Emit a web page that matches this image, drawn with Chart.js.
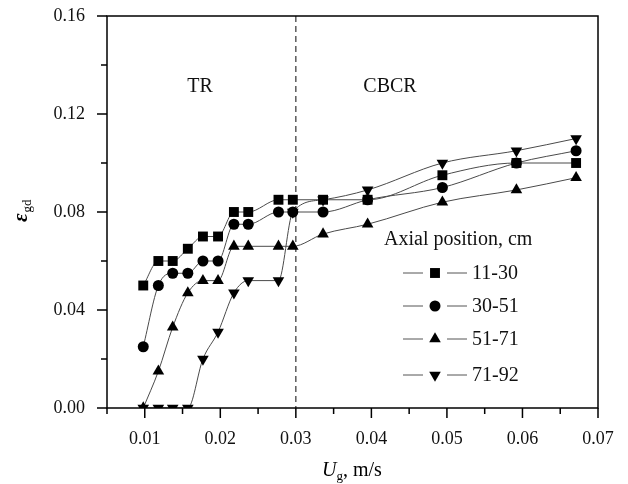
<!DOCTYPE html>
<html>
<head>
<meta charset="utf-8">
<script src="https://cdn.jsdelivr.net/npm/chart.js@4.4.1/dist/chart.umd.min.js"></script>
<style>
    html, body { margin: 0; padding: 0; background: #fff; }
    #wrap { width: 628px; height: 484px; }
</style>
</head>
<body>
<div id="wrap"><canvas id="voidChart" width="628" height="484"></canvas></div>
<script>
// superficial gas velocity, m/s
const ugValues = [0.0098, 0.0118, 0.0137, 0.0157, 0.0177, 0.0197, 0.0218, 0.0237, 0.0277, 0.0296, 0.0336, 0.0395, 0.0494, 0.0592, 0.0671];

// gas holdup at each axial position
const pos1130 = [0.050, 0.060, 0.060, 0.065, 0.070, 0.070, 0.080, 0.080, 0.085, 0.085, 0.085, 0.085, 0.095, 0.100, 0.100];
const pos3051 = [0.025, 0.050, 0.055, 0.055, 0.060, 0.060, 0.075, 0.075, 0.080, 0.080, 0.080, 0.085, 0.090, 0.100, 0.105];
const pos5171 = [0.000, 0.015, 0.033, 0.047, 0.052, 0.052, 0.066, 0.066, 0.066, 0.066, 0.071, 0.075, 0.084, 0.089, 0.094];
const pos7192 = [0.000, 0.000, 0.000, 0.000, 0.020, 0.031, 0.047, 0.052, 0.052, 0.080, 0.085, 0.089, 0.100, 0.105, 0.110];

const seriesNames = ['11-30', '30-51', '51-71', '71-92'];
const xTickLabels = ['0.01', '0.02', '0.03', '0.04', '0.05', '0.06', '0.07'];
const yTickLabels = ['0.00', '0.04', '0.08', '0.12', '0.16'];
const regimeBoundary = 0.03;
const regimeNames = ['TR', 'CBCR'];

const serif = '"Liberation Serif", "DejaVu Serif", serif';

function toPoints(ys) {
    return ugValues.map((x, i) => ({ x: x, y: ys[i] }));
}

const markerStyles = [
    { pointStyle: 'rect', radius: 7, rotation: 0 },
    { pointStyle: 'circle', radius: 5.5, rotation: 0 },
    { pointStyle: 'triangle', radius: 6.7, rotation: 0 },
    { pointStyle: 'triangle', radius: 6.7, rotation: 180 }
];

const allSeries = [pos1130, pos3051, pos5171, pos7192];

const datasets = allSeries.map((ys, i) => ({
    label: seriesNames[i],
    data: toPoints(ys),
    showLine: true,
    borderColor: '#4a4a4a',
    borderWidth: 1,
    backgroundColor: '#000',
    pointBackgroundColor: '#000',
    pointBorderColor: '#000',
    pointBorderWidth: 0,
    pointStyle: markerStyles[i].pointStyle,
    pointRadius: markerStyles[i].radius,
    pointRotation: markerStyles[i].rotation,
    cubicInterpolationMode: 'monotone',
    clip: { left: 20, right: 20, top: 20, bottom: 0 }
}));

function drawMarker(ctx, style, x, y, r) {
    ctx.save();
    ctx.fillStyle = '#000';
    ctx.beginPath();
    if (style === 0) {
        const s = Math.SQRT1_2 * r;
        ctx.rect(x - s, y - s, 2 * s, 2 * s);
    } else if (style === 1) {
        ctx.arc(x, y, r, 0, Math.PI * 2);
    } else {
        const dir = style === 2 ? 1 : -1;
        const h = r * 0.5;
        const w = r * Math.sin(Math.PI / 3);
        ctx.moveTo(x, y - dir * r);
        ctx.lineTo(x - w, y + dir * h);
        ctx.lineTo(x + w, y + dir * h);
        ctx.closePath();
    }
    ctx.fill();
    ctx.restore();
}

function noOverhang(scale) {
    scale.paddingLeft = 0;
    scale.paddingRight = 0;
    scale.paddingTop = 0;
    scale.paddingBottom = 0;
}

const decorPlugin = {
    id: 'decor',
    beforeDatasetsDraw(chart) {
        const ctx = chart.ctx;
        const area = chart.chartArea;
        const xs = chart.scales.x;
        const px = xs.getPixelForValue(regimeBoundary);
        ctx.save();
        ctx.strokeStyle = '#333';
        ctx.lineWidth = 1.2;
        ctx.setLineDash([6, 4]);
        ctx.beginPath();
        ctx.moveTo(px, area.top);
        ctx.lineTo(px, area.bottom);
        ctx.stroke();
        ctx.restore();

        ctx.save();
        ctx.fillStyle = '#111';
        ctx.font = '20px ' + serif;
        ctx.textAlign = 'center';
        ctx.textBaseline = 'middle';
        ctx.fillText(regimeNames[0], 200, 87);
        ctx.fillText(regimeNames[1], 390, 87);
        ctx.restore();
    },
    afterDraw(chart) {
        const ctx = chart.ctx;
        const area = chart.chartArea;
        const xs = chart.scales.x;
        const ys = chart.scales.y;

        // frame
        ctx.save();
        ctx.strokeStyle = '#000';
        ctx.lineWidth = 1.5;
        ctx.strokeRect(area.left, area.top, area.right - area.left, area.bottom - area.top);

        // ticks pointing outwards
        ctx.beginPath();
        for (let i = 0; i <= 13; i++) {
            const v = 0.005 + i * 0.005;
            const p = xs.getPixelForValue(v);
            const len = i % 2 === 1 ? 10 : 6;
            ctx.moveTo(p, area.bottom);
            ctx.lineTo(p, area.bottom + len);
        }
        for (let i = 0; i <= 8; i++) {
            const v = i * 0.02;
            const p = ys.getPixelForValue(v);
            const len = i % 2 === 0 ? 10 : 6;
            ctx.moveTo(area.left, p);
            ctx.lineTo(area.left - len, p);
        }
        ctx.stroke();
        ctx.restore();

        // y title: epsilon_gd
        ctx.save();
        ctx.translate(27, 222);
        ctx.rotate(-Math.PI / 2);
        ctx.fillStyle = '#000';
        ctx.textBaseline = 'alphabetic';
        ctx.textAlign = 'left';
        ctx.font = 'italic bold 21px ' + serif;
        ctx.fillText('\u03b5', 0, 0);
        const ew = ctx.measureText('\u03b5').width;
        ctx.font = '13px ' + serif;
        ctx.fillText('gd', ew + 1, 4);
        ctx.restore();

        // x title: U_g, m/s
        ctx.save();
        ctx.fillStyle = '#000';
        ctx.textBaseline = 'alphabetic';
        ctx.textAlign = 'left';
        let x0 = 322;
        const base = 476;
        ctx.font = 'italic 20px ' + serif;
        ctx.fillText('U', x0, base);
        x0 += ctx.measureText('U').width;
        ctx.font = '13px ' + serif;
        ctx.fillText('g', x0, base + 4);
        x0 += ctx.measureText('g').width;
        ctx.font = '20px ' + serif;
        ctx.fillText(', m/s', x0, base);
        ctx.restore();

        // legend
        ctx.save();
        ctx.fillStyle = '#111';
        ctx.font = '20px ' + serif;
        ctx.textAlign = 'left';
        ctx.textBaseline = 'middle';
        ctx.fillText('Axial position, cm', 384, 240);
        const rows = [273, 306, 339, 375];
        seriesNames.forEach((name, i) => {
            const y = rows[i];
            ctx.strokeStyle = '#555';
            ctx.lineWidth = 1;
            ctx.beginPath();
            ctx.moveTo(403, y);
            ctx.lineTo(423, y);
            ctx.moveTo(447, y);
            ctx.lineTo(467, y);
            ctx.stroke();
            drawMarker(ctx, i, 435, y, markerStyles[i].radius);
            ctx.fillStyle = '#111';
            ctx.fillText(name, 472, y + 1);
        });
        ctx.restore();
    }
};

new Chart(document.getElementById('voidChart').getContext('2d'), {
    type: 'scatter',
    data: { datasets: datasets },
    options: {
        responsive: false,
        animation: false,
        events: [],
        layout: { padding: { left: 0, top: 16, right: 30, bottom: 0 } },
        plugins: {
            legend: { display: false },
            tooltip: { enabled: false }
        },
        scales: {
            x: {
                type: 'linear',
                min: 0.005,
                max: 0.07,
                grid: { display: false },
                border: { display: false },
                afterFit: function(scale) { scale.height = 76; noOverhang(scale); },
                ticks: {
                    stepSize: 0.005,
                    autoSkip: false,
                    maxRotation: 0,
                    padding: 12,
                    color: '#111',
                    font: { family: serif, size: 18 },
                    callback: function(v) {
                        const k = Math.round(v * 1000);
                        if (k % 10 !== 0) return '';
                        return xTickLabels[k / 10 - 1];
                    }
                }
            },
            y: {
                min: 0,
                max: 0.16,
                grid: { display: false },
                border: { display: false },
                afterFit: function(scale) { scale.width = 107; noOverhang(scale); },
                ticks: {
                    stepSize: 0.02,
                    autoSkip: false,
                    padding: 14,
                    color: '#111',
                    font: { family: serif, size: 18 },
                    callback: function(v) {
                        const k = Math.round(v * 100);
                        if (k % 4 !== 0) return '';
                        return yTickLabels[k / 4];
                    }
                }
            }
        }
    },
    plugins: [decorPlugin]
});
</script>
</body>
</html>
